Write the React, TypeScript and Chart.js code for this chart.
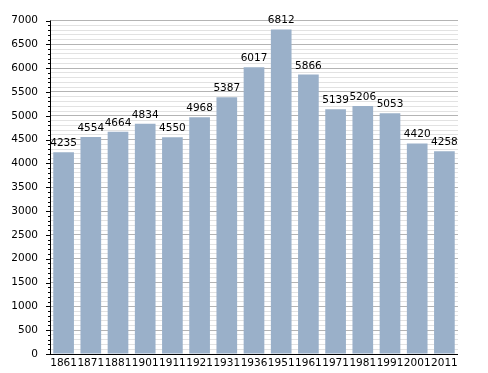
import React, { useEffect, useRef } from "react";
import { Chart, registerables } from "chart.js";

Chart.register(...registerables);

const years = ["1861", "1871", "1881", "1901", "1911", "1921", "1931", "1936", "1951", "1961", "1971", "1981", "1991", "2001", "2011"];
const population = [4235, 4554, 4664, 4834, 4550, 4968, 5387, 6017, 6812, 5866, 5139, 5206, 5053, 4420, 4258];
const yMax = 7000;
const majorStep = 500;
const minorStep = 100;

const FONT = "'DejaVu Sans', sans-serif";
const FONT_SIZE = 10.5;

const extras = {
  id: "extras",
  afterDraw(chart: any) {
    const ctx = chart.ctx;
    const y = chart.scales.y;
    const area = chart.chartArea;
    ctx.save();
    ctx.strokeStyle = "#000";
    ctx.lineWidth = 1;
    for (let v = 0; v <= yMax; v += minorStep) {
      const py = Math.round(y.getPixelForValue(v)) + 0.5;
      const len = v % majorStep === 0 ? 4 : 2;
      ctx.beginPath();
      ctx.moveTo(area.left - len, py);
      ctx.lineTo(area.left, py);
      ctx.stroke();
    }
    ctx.beginPath();
    ctx.moveTo(Math.round(area.left) + 0.5, area.top);
    ctx.lineTo(Math.round(area.left) + 0.5, area.bottom + 1);
    ctx.moveTo(area.left, Math.round(area.bottom) + 0.5);
    ctx.lineTo(area.right, Math.round(area.bottom) + 0.5);
    ctx.stroke();
    ctx.fillStyle = "#000";
    ctx.font = FONT_SIZE + "px " + FONT;
    ctx.textAlign = "center";
    ctx.textBaseline = "alphabetic";
    const meta = chart.getDatasetMeta(0);
    meta.data.forEach((bar: any, i: number) => {
      ctx.fillText(String(population[i]), bar.x, bar.y - 6);
    });
    ctx.restore();
  },
};

export default function App() {
  const ref = useRef<HTMLCanvasElement>(null);
  useEffect(() => {
    if (!ref.current) return;
    const chart = new Chart(ref.current, {
      type: "bar",
      data: {
        labels: years,
        datasets: [
          {
            data: population,
            backgroundColor: "#9ab0c9",
            borderWidth: 0,
            categoryPercentage: 1,
            barPercentage: 0.76,
          },
        ],
      },
      options: {
        animation: false,
        responsive: false,
        maintainAspectRatio: false,
        layout: { padding: { left: 0, top: 20.5, right: 30, bottom: 0 } },
        plugins: { legend: { display: false }, tooltip: { enabled: false } },
        scales: {
          x: {
            grid: { display: false, drawTicks: false },
            border: { display: false },
            ticks: { color: "#000", font: { family: FONT, size: FONT_SIZE }, padding: 3, maxRotation: 0, autoSkip: false },
            afterFit: (s: any) => { s.height = 19; },
          },
          y: {
            min: 0,
            max: yMax,
            grid: {
              drawTicks: false,
              color: (c: any) => (c.tick && c.tick.value % majorStep === 0 ? "#b4b4b4" : "#e2e2e2"),
              lineWidth: 1,
            },
            border: { display: false },
            ticks: {
              stepSize: minorStep,
              autoSkip: false,
              color: "#000",
              font: { family: FONT, size: FONT_SIZE },
              padding: 12,
              callback: (v: any) => (Number(v) % majorStep === 0 ? String(v) : ""),
            },
            afterFit: (s: any) => { s.width = 50; },
          },
        },
      },
      plugins: [extras],
    });
    return () => chart.destroy();
  }, []);
  return (
    <div style={{ position: "fixed", left: 0, top: 0, width: 488, height: 373, background: "#fff" }}>
      <canvas ref={ref} width={488} height={373} style={{ width: 488, height: 373 }} />
    </div>
  );
}
